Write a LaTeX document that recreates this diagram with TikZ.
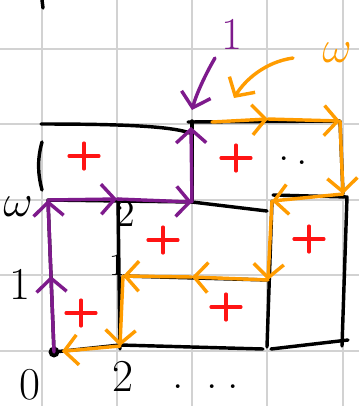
\documentclass[tikz,border=0pt]{standalone}
\usepackage{amsmath,amssymb}
\usetikzlibrary{arrows.meta}
\definecolor{gridcol}{HTML}{D2D2D2}
\definecolor{purp}{HTML}{7E1A8C}
\definecolor{orng}{HTML}{FF9C00}
\definecolor{plusred}{HTML}{FF1414}

\begin{document}
\begin{tikzpicture}[
  x=0.0133cm,y=-0.0133cm,
  gridline/.style={draw=gridcol,line width=0.8pt},
  ink/.style={draw=black,line width=1.3pt,line cap=round,line join=round},
  purpath/.style={draw=purp,line width=1.3pt,line cap=round,-{Straight Barb[length=1.8mm,width=4mm]}},
  orpath/.style={draw=orng,line width=1.3pt,line cap=round,-{Straight Barb[length=1.8mm,width=4mm]}},
  lab/.style={font=\LARGE,text=black,inner sep=0pt},
  redcross/.pic={\draw[plusred,line width=1.2pt,line cap=round] (-15,0) -- (15,0) (0,-13) -- (0,13);}
]
\fill[white] (0,0) rectangle (359,406);
\useasboundingbox (0,0) rectangle (359,406);

% squared paper
\foreach \gx in {42,117,192,267,343} \draw[gridline] (\gx,0) -- (\gx,406);
\foreach \gy in {49,124,200,275,351} \draw[gridline] (0,\gy) -- (359,\gy);

% corners of the boxes
\coordinate (o) at (54,352);
\coordinate (a1) at (51,276);
\coordinate (a2) at (48,200);
\coordinate (b2) at (117,199);
\coordinate (c2) at (192,202);
\coordinate (c3) at (191,127);
\coordinate (b1) at (123,276);
\coordinate (b0) at (120,346);
\coordinate (c1) at (192,277);
\coordinate (d1) at (268,280);
\coordinate (d2) at (272,201);
\coordinate (d3) at (268,119);
\coordinate (e3) at (340,121);
\coordinate (e2) at (343,194);
\coordinate (s3) at (212,122);

% black outlines
\draw[ink] (o) -- (a2) -- (c2) -- (267,211);
\draw[ink] (c2) -- (192,121);
\draw[ink] (41,124) .. controls (120,124) and (170,126) .. (190,133);
\draw[ink] (42,142) .. controls (37,160) and (38,175) .. (42,190);
\draw[ink] (188,122) -- (e3) -- (e2);
\draw[ink] (273,195) -- (347,197) -- (342,346);
\draw[ink] (d2) -- (267,347);
\draw[ink] (b1) -- (d1);
\draw[ink] (118,199) -- (120,349);
\draw[ink] (o) -- (120,345) -- (263,349);
\draw[ink] (271,349) -- (348,340);
\draw[ink] (42,0) -- (43,8);
\fill (o) circle (5.5);

% purple walk
\draw[purpath] (o) -- (a1);
\draw[purpath] (a1) -- (a2);
\draw[purpath] (a2) -- (b2);
\draw[purpath] (b2) -- (c2);
\draw[purpath] (c2) -- (c3);
\node[lab,text=purp] (pone) at (232,34) {1};
\coordinate (pstart) at (215,58);
\coordinate (ptip) at (192,110);
\draw[purpath] (pstart) .. controls (205,75) and (196,95) .. (ptip);

% orange walk
\draw[orpath] (s3) -- (d3);
\draw[orpath] (d3) -- (e3);
\draw[orpath] (e3) -- (e2);
\draw[orpath] (e2) -- (d2);
\draw[orpath] (d2) -- (d1);
\draw[orpath] (d1) -- (c1);
\draw[orpath] (c1) -- (b1);
\draw[orpath] (b1) -- (b0);
\draw[orpath,shorten >=3pt] (b0) -- (o);
\node[lab,text=orng] (oomega) at (337,53) {$\omega$};
\coordinate (ostart) at (293,58);
\coordinate (otip) at (234,98);
\draw[orpath] (ostart) .. controls (265,62) and (245,80) .. (otip);

% labels
\node[lab] (zero) at (30,385) {0};
\node[lab] (lone) at (20,284) {1};
\node[lab] (lomega) at (18,207) {$\omega$};
\node[lab,font=\Large] (mtwo) at (126,214) {2};
\node[lab,font=\large] (mone) at (117,265) {1};
\node[lab] (btwo) at (123,376) {2};
\node[lab] (bdots) at (206,387) {.\hspace{0.3cm}.\hspace{0.13cm}.};
\node[lab] (tdots) at (293,161) {.\hspace{0.08cm}\raisebox{-1.5pt}{.}};

% signs
\pic at (84,156) {redcross};
\pic at (236,158) {redcross};
\pic at (163,240) {redcross};
\pic at (81,313) {redcross};
\pic at (226,307) {redcross};
\pic at (309,239) {redcross};
\end{tikzpicture}
\end{document}
